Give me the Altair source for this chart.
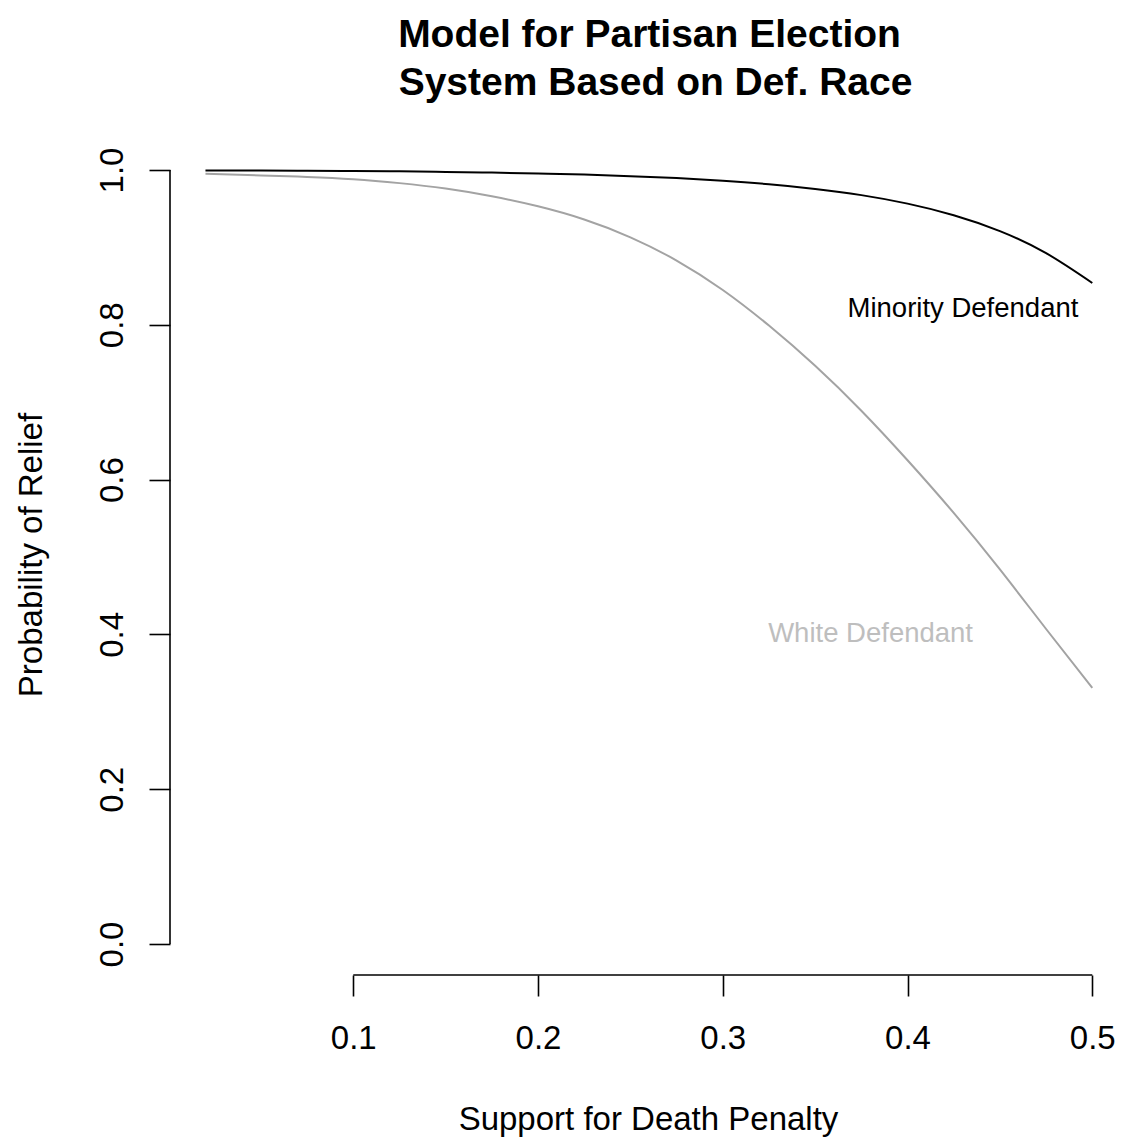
import altair as alt
import pandas as pd

# Predicted probability of relief by level of public support for the death penalty
support = [0.02, 0.05, 0.075, 0.10, 0.125, 0.15, 0.175, 0.20, 0.225, 0.25, 0.275, 0.30, 0.325,
           0.35, 0.375, 0.40, 0.425, 0.45, 0.475, 0.50]
minority = [0.9994, 0.9992, 0.9990, 0.9987, 0.9982, 0.9975, 0.9966, 0.9955, 0.9940, 0.9920,
            0.9895, 0.9860, 0.9815, 0.9755, 0.9675, 0.9565, 0.9415, 0.9210, 0.8925, 0.8540]
white = [0.995, 0.993, 0.991, 0.988, 0.983, 0.976, 0.966, 0.953, 0.936, 0.913, 0.883, 0.845,
         0.799, 0.747, 0.689, 0.625, 0.557, 0.484, 0.407, 0.331]

series_names = ["Minority Defendant", "White Defendant"]
series_colors = ["#000000", "#a3a3a3"]

label_x = [0.43, 0.38]
label_y = [0.82, 0.40]
label_colors = ["#000000", "#bebebe"]

x_ticks = [0.1, 0.2, 0.3, 0.4, 0.5]
y_ticks = [0.0, 0.2, 0.4, 0.6, 0.8, 1.0]

title_lines = ["Model for Partisan Election", "System Based on Def. Race"]
x_title = "Support for Death Penalty"
y_title = "Probability of Relief"

FONT = "Liberation Sans"
W, H = 950, 836

curves = pd.DataFrame({
    "support": support * 2,
    "prob": minority + white,
    "group": [series_names[0]] * len(support) + [series_names[1]] * len(support),
})
labels = pd.DataFrame({"x": label_x, "y": label_y, "text": series_names, "color": label_colors})

x_scale = alt.Scale(domain=[0.0008, 0.515], nice=False, zero=False)
y_scale = alt.Scale(domain=[-0.04, 1.04], nice=False, zero=False)

x_axis = alt.Axis(values=x_ticks, format=".1f", domain=False, grid=False,
                  tickSize=21, tickWidth=1.6, tickColor="black",
                  labelFont=FONT, labelFontSize=33, labelColor="black",
                  labelPadding=26, labelFlush=False, labelOverlap=False,
                  labelBaseline="top", title=None)
y_axis = alt.Axis(values=y_ticks, format=".1f", domain=False, grid=False,
                  tickSize=21, tickWidth=1.6, tickColor="black",
                  labelFont=FONT, labelFontSize=33, labelColor="black",
                  labelAngle=270, labelAlign="center", labelBaseline="alphabetic",
                  labelPadding=27, labelFlush=False, labelOverlap=False, title=None)

lines = alt.Chart(curves).mark_line(strokeWidth=2, interpolate="natural").encode(
    x=alt.X("support:Q", scale=x_scale, axis=x_axis),
    y=alt.Y("prob:Q", scale=y_scale, axis=y_axis),
    color=alt.Color("group:N", scale=alt.Scale(domain=series_names, range=series_colors), legend=None),
    detail="group:N",
)

text_labels = alt.Chart(labels).mark_text(font=FONT, fontSize=27.5, align="center", baseline="middle").encode(
    x=alt.X("x:Q", scale=x_scale),
    y=alt.Y("y:Q", scale=y_scale),
    text="text:N",
    color=alt.Color("color:N", scale=None),
)

# R-style detached axis lines spanning only the tick range
x_line = alt.Chart(pd.DataFrame({"a": [x_ticks[0]], "b": [x_ticks[-1]]})).mark_rule(
    color="black", strokeWidth=1.6).encode(
    x=alt.X("a:Q", scale=x_scale), x2="b:Q", y=alt.value(H))
y_line = alt.Chart(pd.DataFrame({"a": [y_ticks[0]], "b": [y_ticks[-1]]})).mark_rule(
    color="black", strokeWidth=1.6).encode(
    y=alt.Y("a:Q", scale=y_scale), y2="b:Q", x=alt.value(0))

title_df = pd.DataFrame({"t": title_lines, "xx": [479.5, 485.5], "yy": [-92, -44]})
title = alt.Chart(title_df).mark_text(font=FONT, fontSize=39, fontWeight="bold",
                                      align="center", baseline="alphabetic").encode(
    x=alt.X("xx:Q", scale=None), y=alt.Y("yy:Q", scale=None), text="t:N")

xt = alt.Chart(pd.DataFrame({"t": [x_title]})).mark_text(
    font=FONT, fontSize=33, align="center", baseline="alphabetic").encode(
    x=alt.value(478.5), y=alt.value(991), text="t:N")

yt = alt.Chart(pd.DataFrame({"t": [y_title]})).mark_text(
    font=FONT, fontSize=33, align="center", baseline="alphabetic", angle=270).encode(
    x=alt.value(-128.5), y=alt.value(416), text="t:N")

chart = alt.layer(lines, text_labels, x_line, y_line, title, xt, yt).properties(
    width=W, height=H,
    background="white",
    autosize=alt.AutoSizeParams(type="none"),
    padding={"left": 170, "top": 139, "right": 1, "bottom": 163},
).configure_view(strokeWidth=0, stroke="transparent")

chart.save("out.html", embed_options={"renderer": "svg", "actions": False})
